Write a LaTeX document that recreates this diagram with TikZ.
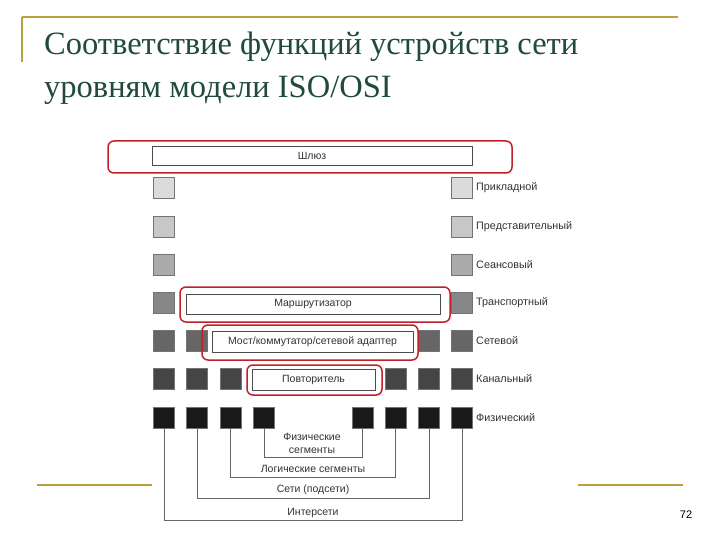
\documentclass[tikz,border=0pt]{standalone}
\usepackage{fontspec}
\setmainfont{Liberation Serif}
\newfontfamily\lsans{Liberation Sans}
\definecolor{gold}{HTML}{B8A040}
\definecolor{ttl}{HTML}{1F4A3C}
\definecolor{redb}{HTML}{C0202A}
\definecolor{txt}{HTML}{333333}
\begin{document}
\begin{tikzpicture}[x=1pt,y=-1pt,
  sq/.style={minimum size=21pt,inner sep=0pt,draw=black!55,fill=#1,line width=0.4pt},
  dev/.style={draw=black!70,fill=white,line width=0.6pt},
  redbox/.style={draw=redb,line width=1.5pt,rounded corners=6pt},
  lab/.style={font=\lsans\fontsize{10.8}{12}\selectfont,text=txt,anchor=west,inner sep=0pt},
  blab/.style={font=\lsans\fontsize{10.5}{12}\selectfont,text=txt,inner sep=0pt},
  seg/.style={draw=black!60,line width=0.6pt}]
\useasboundingbox (0,0) rectangle (720,540);
\fill[white] (0,0) rectangle (720,540);
% decoration
\draw[gold,line width=1.2pt] (22,17) -- (678,17);
\draw[gold,line width=1.2pt] (22,17) -- (22,62);
\draw[gold,line width=1.2pt] (37,485) -- (152,485);
\draw[gold,line width=1.2pt] (578,485) -- (683,485);
\node[anchor=west,inner sep=0pt,text=ttl,font=\fontsize{32.5}{36}\selectfont] (t1) at (44,47) {Соответствие функций устройств сети};
\node[anchor=west,inner sep=0pt,text=ttl,font=\fontsize{32.5}{36}\selectfont] (t2) at (44,90) {уровням модели ISO/OSI};
\node[font=\lsans\fontsize{11}{12}\selectfont,inner sep=0pt] (pg) at (686,515) {72};
% rows
\foreach \y/\c/\n in {188/black!14/1,226.5/black!22/2,265/black!33/3,303/black!47/4}{
  \node[sq=\c] (a\n) at (164,\y) {};
  \node[sq=\c] (b\n) at (462,\y) {};
}
\foreach \x [count=\i] in {164,197,429,462} \node[sq=black!60] (n\i) at (\x,341) {};
\foreach \x [count=\i] in {164,197,230.5,395.5,429,462} \node[sq=black!73] (k\i) at (\x,379) {};
\foreach \x [count=\i] in {164,197,230.5,264,362.5,395.5,429,462} \node[sq=black!90] (f\i) at (\x,417.5) {};
% labels
\node[lab] (l1) at (476,188) {Прикладной};
\node[lab] (l2) at (476,226.5) {Представительный};
\node[lab] (l3) at (476,265) {Сеансовый};
\node[lab] (l4) at (476,303) {Транспортный};
\node[lab] (l5) at (476,341) {Сетевой};
\node[lab] (l6) at (476,379) {Канальный};
\node[lab] (l7) at (476,417.5) {Физический};
% devices
\draw[dev] (152,146) rectangle (472,165);
\node[blab] (gw) at (312,155.5) {Шлюз};
\draw[redbox] (108,141) rectangle (512,173);
\draw[dev] (186,294) rectangle (440,314);
\node[blab] (rt) at (313,304) {Маршрутизатор};
\draw[redbox] (180,287) rectangle (450,322);
\draw[dev] (212,331) rectangle (413,352);
\node[blab] (br) at (312.5,341.5) {Мост/коммутатор/сетевой адаптер};
\draw[redbox] (202,325) rectangle (418,360);
\draw[dev] (252,369) rectangle (375,390);
\node[blab] (rp) at (313.5,379.5) {Повторитель};
\draw[redbox] (247,365) rectangle (382,395);
% segments
\draw[seg] (f4.south) |- (362.5,457) -- (f5.south);
\node[blab,align=center,font=\lsans\fontsize{10.5}{13}\selectfont] (ps) at (312,443) {Физические\\сегменты};
\draw[seg] (f3.south) |- (395.5,477) -- (f6.south);
\node[blab] (ls) at (313,469) {Логические сегменты};
\draw[seg] (f2.south) |- (429,498) -- (f7.south);
\node[blab] (ns) at (313,490) {Сети (подсети)};
\draw[seg] (f1.south) |- (462,520) -- (f8.south);
\node[blab] (is) at (313,513) {Интерсети};
\end{tikzpicture}
\end{document}
